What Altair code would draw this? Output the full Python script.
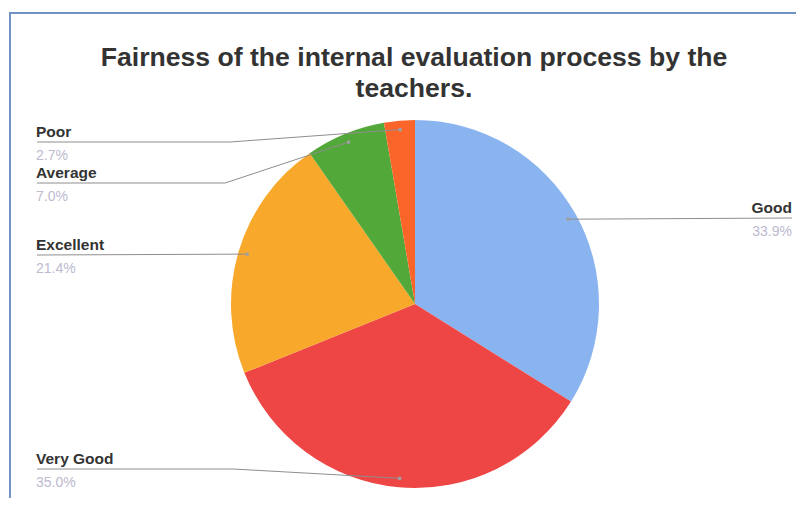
import math
import altair as alt
import pandas as pd

# ---- data ----
categories = ["Good", "Very Good", "Excellent", "Average", "Poor"]
percent = [33.9, 35.0, 21.4, 7.0, 2.7]
pct_labels = ["33.9%", "35.0%", "21.4%", "7.0%", "2.7%"]
colors = ["#8AB4F0", "#EE4545", "#F8A82A", "#52A838", "#FC6529"]

title_lines = ["Fairness of the internal evaluation process by the", "teachers."]

# ---- layout (chart pixel coordinates) ----
W, H = 788, 490
CX, CY, R = 407, 296, 184
DOT_R = 175
label_side = {"Good": "right", "Very Good": "left", "Excellent": "left", "Average": "left", "Poor": "left"}
label_line_y = {"Good": 210, "Very Good": 461, "Excellent": 247, "Average": 175, "Poor": 134}
label_knee_x = {"Very Good": 225, "Average": 217, "Poor": 222}
LEFT_X, RIGHT_X = 29, 784

# pie slice data
pie = pd.DataFrame({"category": categories, "percent": percent, "idx": range(len(categories)),
                    "pct": pct_labels})

# anchor points on slices derived from the values
cum = 0.0
dots, lines, names, pcts = [], [], [], []
for c, v, p in zip(categories, percent, pct_labels):
    mid = (cum + v / 2) / sum(percent) * 2 * math.pi
    cum += v
    dx = CX + DOT_R * math.sin(mid)
    dy = CY - DOT_R * math.cos(mid)
    dots.append({"category": c, "x": dx, "y": dy})
    ly = label_line_y[c]
    if label_side[c] == "left":
        pts = [(LEFT_X, ly)]
        if c in label_knee_x:
            pts.append((label_knee_x[c], ly))
        pts.append((dx, dy))
        tx, al = LEFT_X - 1, "left"
    else:
        pts = [(dx, dy), (RIGHT_X, ly)]
        tx, al = RIGHT_X, "right"
    for i, (px, py) in enumerate(pts):
        lines.append({"category": c, "o": i, "x": px, "y": py})
    names.append({"category": c, "x": tx, "y": ly - 5.5, "align": al})
    pcts.append({"category": c, "pct": p, "x": tx, "y": ly + 17.5, "align": al})

dots_df = pd.DataFrame(dots)
lines_df = pd.DataFrame(lines)
names_df = pd.DataFrame(names)
pcts_df = pd.DataFrame(pcts)

border = alt.Chart(pd.DataFrame({"a": [0]})).mark_rect(
    filled=False, stroke="#6F93C3", strokeWidth=2
).encode(x=alt.value(2), y=alt.value(5), x2=alt.value(W + 100), y2=alt.value(H + 100))

arc = alt.Chart(pie).mark_arc(outerRadius=R).encode(
    theta=alt.Theta("percent:Q", stack=True),
    color=alt.Color("category:N", scale=alt.Scale(domain=categories, range=colors), legend=None),
    order=alt.Order("idx:Q"),
    x=alt.value(CX),
    y=alt.value(CY),
)

leader = alt.Chart(lines_df).mark_line(color="#8E8E8E", strokeWidth=1).encode(
    x=alt.X("x:Q", scale=None),
    y=alt.Y("y:Q", scale=None),
    detail="category:N",
    order="o:Q",
)

dot = alt.Chart(dots_df).mark_circle(color="#A0A0A0", size=14, opacity=1).encode(
    x=alt.X("x:Q", scale=None),
    y=alt.Y("y:Q", scale=None),
)

def text_layer(df, field, left, **kw):
    sub = df[df["align"] == ("left" if left else "right")]
    return alt.Chart(sub).mark_text(align="left" if left else "right", baseline="alphabetic", **kw).encode(
        x=alt.X("x:Q", scale=None),
        y=alt.Y("y:Q", scale=None),
        text=f"{field}:N",
    )

name_l = text_layer(names_df, "category", True, font="Liberation Sans", fontSize=15.5, fontWeight="bold", color="#333333")
name_r = text_layer(names_df, "category", False, font="Liberation Sans", fontSize=15.5, fontWeight="bold", color="#333333")
pct_l = text_layer(pcts_df, "pct", True, font="Liberation Sans", fontSize=14, color="#BDB9CF")
pct_r = text_layer(pcts_df, "pct", False, font="Liberation Sans", fontSize=14, color="#BDB9CF")

title = alt.Chart(pd.DataFrame({"a": [0]})).mark_text(
    text=title_lines, font="Liberation Sans", fontSize=26.6, fontWeight="bold",
    color="#333333", align="center", baseline="alphabetic", lineHeight=31,
).encode(x=alt.value(406), y=alt.value(58))

chart = alt.layer(border, arc, leader, dot, name_l, name_r, pct_l, pct_r, title).properties(
    width=W, height=H, padding=0, autosize=alt.AutoSizeParams(type="none"), background="white"
).configure_view(stroke=None)

chart.save("out.html", embed_options={"renderer": "svg", "actions": False})
